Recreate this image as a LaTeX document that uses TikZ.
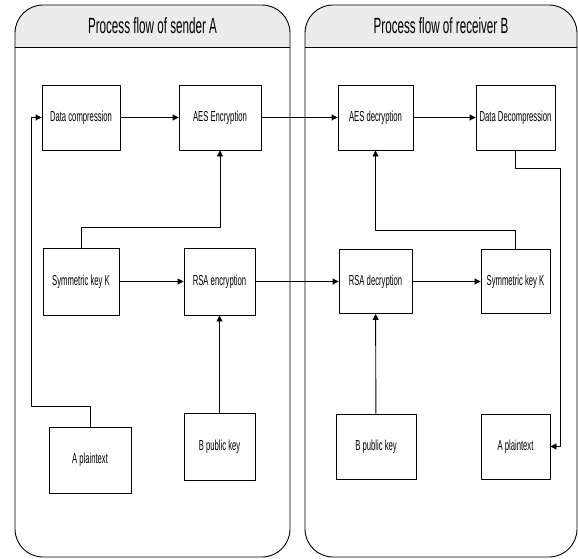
\documentclass[tikz,border=0pt]{standalone}
\usepackage{fontspec}
\setmainfont{Liberation Sans}[FakeStretch=0.53]
\usetikzlibrary{arrows.meta}
\begin{document}
\begin{tikzpicture}[x=1pt, y=-1pt, line width=0.9pt, line join=round,
	>={Triangle[length=6pt,width=6pt]},
	box/.style={draw, minimum height=65pt, inner sep=0pt, font=\fontsize{14.5}{16}\selectfont},
	lane/.style={draw, rounded corners=28pt},
	title/.style={font=\fontsize{22}{24}\selectfont}]
	\useasboundingbox (0,0) rectangle (578,558);
	% the two lanes
	\fill[gray!15] [rounded corners=28pt] (15,47) -- (15,5) -- (290,5) [sharp corners] -- (290,47) -- cycle;
	\fill[gray!15] [rounded corners=28pt] (305,47) -- (305,5) -- (577,5) [sharp corners] -- (577,47) -- cycle;
	\draw[lane] (15,5) rectangle (290,557);
	\draw[lane] (305,5) rectangle (577,557);
	\draw (15,47) -- (290,47);
	\draw (305,47) -- (577,47);
	\node[title] (laneA) at (152.5,26) {Process flow of sender A};
	\node[title] (laneB) at (441,26) {Process flow of receiver B};
	% boxes
	\node[box, minimum width=78pt] (compA) at (81,117.5) {Data compression};
	\node[box, minimum width=82pt] (aesEnc) at (220,117.5) {AES Encryption};
	\node[box, minimum width=75pt] (aesDec) at (375.5,117.5) {AES decryption};
	\node[box, minimum width=79pt] (decompB) at (515.5,117.5) {Data Decompression};
	\node[box, minimum width=76pt, minimum height=67pt] (keyA) at (81,281.5) {Symmetric key K};
	\node[box, minimum width=71pt, minimum height=67pt] (rsaEnc) at (219.5,281.5) {RSA encryption};
	\node[box, minimum width=73pt, minimum height=64pt] (rsaDec) at (375.5,281.5) {RSA decryption};
	\node[box, minimum width=69pt, minimum height=64pt] (keyB) at (515.5,281.5) {Symmetric key K};
	\node[box, minimum width=82pt, minimum height=66pt] (plainA) at (90,460) {A plaintext};
	\node[box, minimum width=71pt, minimum height=67pt] (pubA) at (219.5,446.5) {B public key};
	\node[box, minimum width=80pt] (pubB) at (376,446.5) {B public key};
	\node[box, minimum width=69pt] (plainB) at (515.5,446.5) {A plaintext};
	% connectors
	\draw[->] (compA) -- (aesEnc);
	\draw[->] (aesEnc) -- (aesDec);
	\draw[->] (aesDec) -- (decompB);
	\draw[->] (keyA) -- (rsaEnc);
	\draw[->] (rsaEnc) -- (rsaDec);
	\draw[->] (rsaDec) -- (keyB);
	\draw[->] (plainA.north) -- ++(0,-20) -| ([xshift=-10pt]compA.west) -- (compA.west);
	\draw[->] (keyA.north) -- ++(0,-20) -| (aesEnc.south);
	\draw[->] (keyB.north) -- ++(0,-19) -| (aesDec.south);
	\draw[->] (pubA) -- (rsaEnc);
	\draw[->] (pubB) -- (rsaDec);
	\draw[->] (decompB.south) -- ++(0,18) -| ([xshift=10pt]plainB.east) -- (plainB.east);
\end{tikzpicture}
\end{document}
